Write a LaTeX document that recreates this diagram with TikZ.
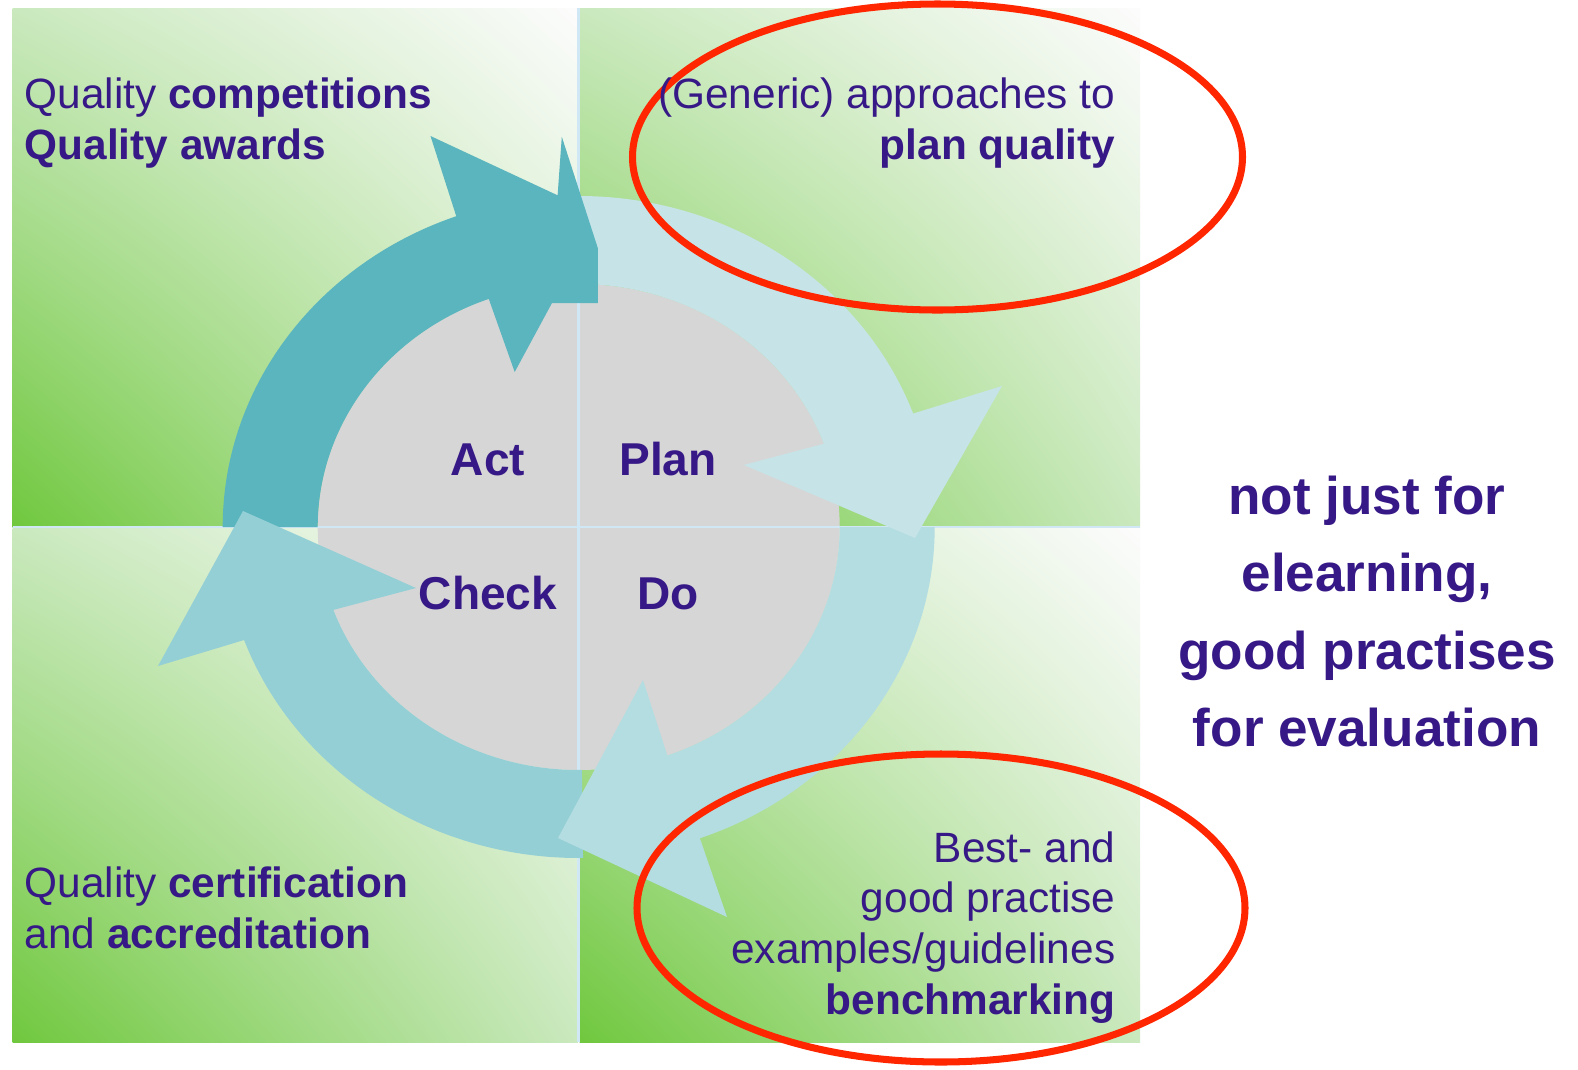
\documentclass[tikz,border=0pt]{standalone}
\usepackage{fontspec}
\setmainfont{Liberation Sans}
\usetikzlibrary{calc,shadings}

\definecolor{pdcatext}{RGB}{54,25,134}
\definecolor{qgreen}{RGB}{112,200,62}
\definecolor{qmid}{RGB}{202,233,190}
\definecolor{qwhite}{RGB}{252,252,252}
\definecolor{actcol}{RGB}{91,181,190}
\definecolor{plancol}{RGB}{198,228,232}
\definecolor{docol}{RGB}{180,221,225}
\definecolor{checkcol}{RGB}{148,207,214}
\definecolor{disccol}{RGB}{214,214,214}
\definecolor{dividercol}{RGB}{208,232,245}
\definecolor{markred}{RGB}{255,38,0}

\begin{document}
\begin{tikzpicture}[x=0.01cm, y=-0.01cm,
	quad/.style={lower left=qgreen, upper right=qwhite, upper left=qmid, lower right=qmid},
	lbl/.style={text=pdcatext, inner sep=0pt, font=\fontsize{12.05}{14.4}\selectfont},
	cyc/.style={text=pdcatext, inner sep=0pt, anchor=base, font=\bfseries\fontsize{13.1}{15}\selectfont},
	ring/.style={markred, line width=2pt}]
	\useasboundingbox[fill=white] (0,0) rectangle (1578,1069);
	\coordinate (ctr) at (578.7,527);
	% four quadrants
	\foreach \xa/\ya/\xb/\yb in {12.6/8/578/527, 579.5/8/1140/527, 12.6/528/578/1042, 579.5/528/1140/1042} {
		\shade[quad] (\xa,\ya) rectangle (\xb,\yb);
	};
	\fill[disccol] (ctr) ellipse[x radius=261, y radius=243];
	\draw[dividercol, line width=0.7pt] (578.7,8) -- (578.7,1042) (12.6,527) -- (1140,527);
	% arrow bodies
	\foreach \from/\to/\col in {270/341.5/plancol, 180/251.5/actcol, 89.3/161.5/checkcol, 0/71.5/docol} {
		\fill[\col] ($(ctr)+(\from:356 and 331)$) arc[start angle=\from, end angle=\to, x radius=356, y radius=331]
			-- ($(ctr)+(\to:261 and 243)$) arc[start angle=\to, end angle=\from, x radius=261, y radius=243] -- cycle;
	};
	% arrow heads
	\fill[plancol] (912.5,413.8) -- (1002,386) -- (915,538) -- (744,465) -- (823.3,443.9) -- cycle;
	\fill[actcol] (456.2,216) -- (430.5,136) -- (557.6,195.3) -- (561.8,136.7) -- (597.8,248) -- (597.8,303) -- (552,303) -- (514.7,372) -- (488.7,298.7) -- cycle;
	\fill[checkcol] (243.5,640.2) -- (158,666) -- (243,511) -- (416,588) -- (332.7,610.1) -- cycle;
	\fill[docol] (699.8,838) -- (727,917) -- (558,838) -- (643,680) -- (667.3,755.3) -- cycle;
	% marked fields
	\draw[ring] (937.5,157) ellipse[x radius=305, y radius=153];
	\draw[ring] (941,908) ellipse[x radius=304, y radius=154];
	\node[cyc] (act) at (488,475) {Act};
	\node[cyc] (plan) at (668,475) {Plan};
	\node[cyc] (check) at (488,609) {Check};
	\node[cyc] (do) at (668,609) {Do};
	% base anchor sits on the last line
	\node[lbl, align=left, anchor=base west] (compet) at (24,159.5) {Quality \textbf{competitions}\\\textbf{Quality awards}};
	\node[lbl, align=right, anchor=base east] (approach) at (1116,159.5) {(Generic) approaches to\\\textbf{plan quality}};
	\node[lbl, align=left, anchor=base west] (certif) at (24,948) {Quality \textbf{certification}\\and \textbf{accreditation}};
	\node[lbl, align=right, anchor=base east] (bench) at (1116,1014) {Best- and\\good practise\\examples/guidelines\\\textbf{benchmarking}};
	\node[text=pdcatext, inner sep=0pt, align=center, anchor=base, font=\bfseries\fontsize{15.1}{21.9}\selectfont] (note) at (1367,746) {not just for\\elearning,\\good practises\\for evaluation};
\end{tikzpicture}
\end{document}
